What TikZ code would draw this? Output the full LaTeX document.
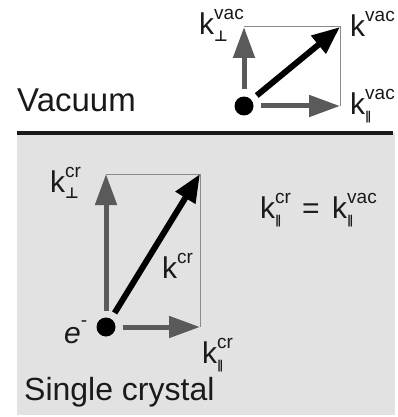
\documentclass[tikz,border=0pt]{standalone}
\usepackage{fontspec}
\setmainfont{Liberation Sans}
\newfontfamily\symfont{DejaVu Sans}
\usetikzlibrary{arrows.meta}
\definecolor{bgray}{HTML}{E2E2E2}
\definecolor{agray}{HTML}{5A5A5A}
\definecolor{rgray}{HTML}{8A8A8A}
\definecolor{ink}{HTML}{1A1A1A}
\newcommand{\kvec}[2]{k\rlap{\raisebox{0.5em}{\fontsize{19}{19}\selectfont #1}}\raisebox{-0.22em}{\fontsize{19}{19}\selectfont #2}}
\newcommand{\kpar}{{\symfont\bfseries\fontsize{12}{12}\selectfont ∥}}
\newcommand{\kperp}{{\symfont\bfseries\fontsize{15}{15}\selectfont ⊥}}
\begin{document}
\begin{tikzpicture}[x=1pt,y=-1pt,
  dotnode/.style={circle,fill=black,minimum size=19pt,inner sep=0pt,outer sep=7pt},
  grayarrow/.style={draw=agray,line width=5pt,-{Triangle[length=31pt,width=21pt]},color=agray},
  blackarrow/.style={draw=black,line width=6pt,-{Triangle[length=28pt,width=22pt]}},
  framebox/.style={draw=rgray,line width=1pt},
  klabel/.style={anchor=base west,inner sep=0pt,text=ink,font=\fontsize{30}{30}\selectfont},
  biglabel/.style={anchor=base west,inner sep=0pt,text=ink,font=\fontsize{33}{33}\selectfont}]
\useasboundingbox (0,0) rectangle (397,417);
% crystal background
\fill[bgray] (17,133) rectangle (395,415);
\draw[line width=4pt,ink] (17,133) -- (393,133);
% vacuum vectors
\node[dotnode] (vdot) at (244,106) {};
\coordinate (vperp) at (244,27);
\coordinate (vpar) at (340,106);
\coordinate (vk) at (340,27);
\draw[framebox] (vperp) -- (vk) -- (vpar);
\draw[grayarrow] (vdot) -- (vperp);
\draw[grayarrow] (vdot) -- (vpar);
\draw[blackarrow] (vdot) -- (vk);
% crystal vectors
\node[dotnode] (cdot) at (106,327) {};
\coordinate (cperp) at (106,174);
\coordinate (cpar) at (200,327);
\coordinate (ck) at (200,174);
\draw[framebox] (cperp) -- (ck) -- (cpar);
\draw[grayarrow] (cdot) -- (cperp);
\draw[grayarrow] (cdot) -- (cpar);
\draw[blackarrow] (cdot) -- (ck);
% labels
\node[biglabel] (vac) at (17,112) {Vacuum};
\node[biglabel,font=\fontsize{32}{32}\selectfont] (sc) at (24,400) {Single crystal};
\node[klabel] (lvperp) at (199,35) {\kvec{vac}{\kperp}};
\node[klabel] (lvk) at (350,37) {\kvec{vac}{}};
\node[klabel] (lvpar) at (350,114) {\kvec{vac}{\kpar}};
\node[klabel] (lcperp) at (50,192) {\kvec{cr}{\kperp}};
\node[klabel] (lck) at (162,278) {\kvec{cr}{}};
\node[klabel] (lcpar) at (202,363) {\kvec{cr}{\kpar}};
\node[klabel] (le) at (64,343) {\textit{e}\raisebox{0.55em}{\fontsize{19}{19}\selectfont -}};
\node[klabel] (eql) at (260,218) {\kvec{cr}{\kpar}};
\node[klabel] (eqs) at (302,218) {=};
\node[klabel] (eqr) at (332,218) {\kvec{vac}{\kpar}};
\end{tikzpicture}
\end{document}
